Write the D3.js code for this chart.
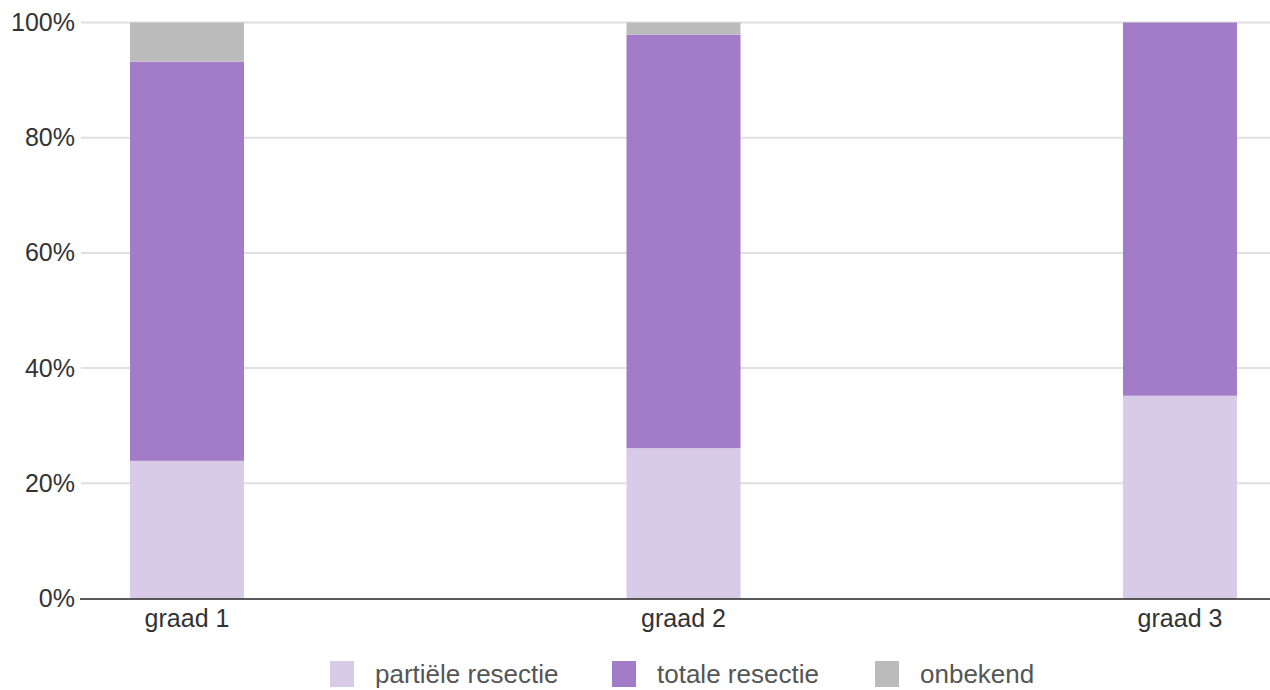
<!DOCTYPE html>
<html><head><meta charset="utf-8">
<script src="https://cdn.jsdelivr.net/npm/d3@7"></script>
<style>body{margin:0;background:#fff}svg{display:block;font-family:"Liberation Sans",Arial,sans-serif}</style>
</head><body><svg id="c" width="1270" height="690"></svg>
<script>
const categories = ["graad 1", "graad 2", "graad 3"];
const seriesNames = ["partiële resectie", "totale resectie", "onbekend"];
const partieel = [23.9, 26.1, 35.2];
const totaal = [69.3, 71.8, 64.8];
const onbekend = [6.8, 2.1, 0];
const yTicks = [0, 20, 40, 60, 80, 100];
const colors = ["#d8cbe7", "#a37cc8", "#bbbbbb"];

(function () {
const svg = d3.select("#c");
const font = '"Liberation Sans", Arial, sans-serif';
const mLeft = 80, mRight = 1270, mTop = 22.5, mBottom = 598.5;
const x = d3.scaleBand().domain(categories).range([130, 1237]).paddingInner(0.7704).paddingOuter(0);
const y = d3.scaleLinear().domain([0, 100]).range([mBottom, mTop]);

const rows = categories.map((c, i) => ({cat: c, "partiële resectie": partieel[i], "totale resectie": totaal[i], "onbekend": onbekend[i]}));
const stack = d3.stack().keys(seriesNames)(rows);

// gridlines
svg.append("g").selectAll("line").data(yTicks.filter(t => t > 0)).join("line")
  .attr("x1", mLeft + 1).attr("x2", mRight).attr("y1", d => y(d)).attr("y2", d => y(d))
  .attr("stroke", "#e0e0e0").attr("stroke-width", 2);

// bars
svg.append("g").selectAll("g").data(stack).join("g").attr("fill", (d, i) => colors[i])
  .selectAll("rect").data(d => d).join("rect")
  .attr("x", d => x(d.data.cat)).attr("width", x.bandwidth())
  .attr("y", d => y(d[1])).attr("height", d => y(d[0]) - y(d[1]));

// y axis labels
const ya = svg.append("g").attr("transform", `translate(${mLeft - 5},0)`)
  .call(d3.axisLeft(y).tickValues(yTicks).tickFormat(d => d + "%").tickSize(0).tickPadding(0));
ya.select(".domain").remove();
ya.selectAll("text").attr("font-size", 25).attr("fill", "#333").attr("font-family", font);

// x axis
const xa = svg.append("g").attr("transform", `translate(0,${mBottom})`)
  .call(d3.axisBottom(x).tickSize(0).tickPadding(11));
xa.select(".domain").remove();
xa.selectAll("text").attr("font-size", 25).attr("fill", "#333").attr("font-family", font);
svg.append("line").attr("x1", mLeft).attr("x2", mRight).attr("y1", mBottom + 0.5).attr("y2", mBottom + 0.5)
  .attr("stroke", "#222").attr("stroke-width", 1.5);

// legend
const legendX = [330, 612, 875];
const lg = svg.append("g").selectAll("g").data(seriesNames).join("g")
  .attr("transform", (d, i) => `translate(${legendX[i]},661)`);
lg.append("rect").attr("width", 24).attr("height", 26).attr("fill", (d, i) => colors[i]);
lg.append("text").attr("x", 45).attr("y", 13).attr("dy", "0.35em").attr("font-size", 26)
  .attr("font-family", font).attr("fill", "#555").text(d => d);
})();
</script></body></html>
